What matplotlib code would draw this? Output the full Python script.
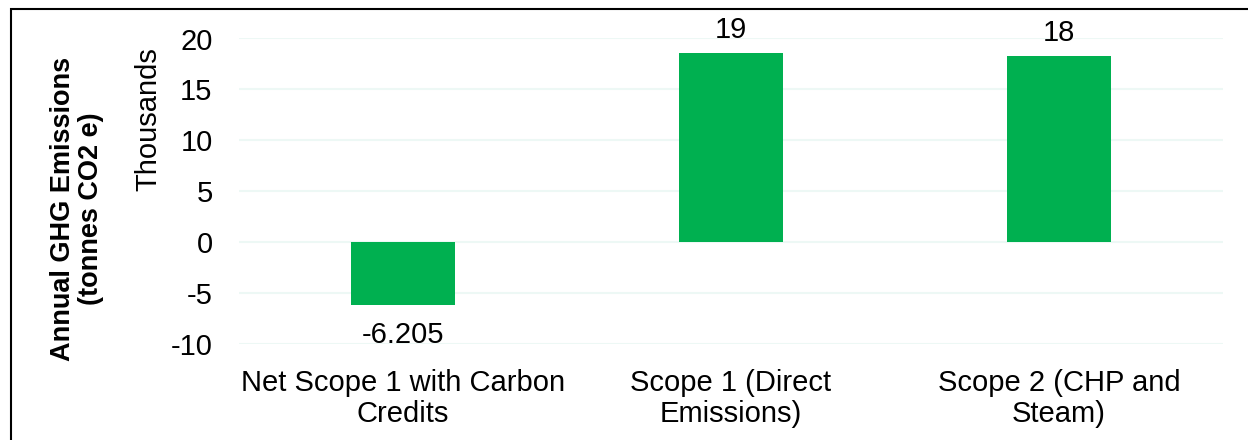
import matplotlib.pyplot as plt
from matplotlib.patches import Rectangle

# annual emissions, thousands of tonnes CO2e
categories = ["Net Scope 1 with Carbon\nCredits", "Scope 1 (Direct\nEmissions)", "Scope 2 (CHP and\nSteam)"]
values = [-6.205, 18.6, 18.3]
label_fmts = ["{:.3f}", "{:.0f}", "{:.0f}"]
yticks = [-10, -5, 0, 5, 10, 15, 20]

BAR_COLOR = "#00B050"
GRID_COLOR = "#EDF8F5"
FS = 21

plt.rcParams["font.family"] = ["Liberation Sans", "DejaVu Sans"]

W, H = 1248, 440
fig = plt.figure(figsize=(W / 100, H / 100), dpi=100)
ax = fig.add_axes([239 / W, 1 - 344 / H, (1223 - 239) / W, (344 - 38.5) / H])

x = range(len(categories))
bars = ax.bar(x, values, width=0.315, color=BAR_COLOR, zorder=3)

for rect, v, fmt in zip(bars, values, label_fmts):
    cx = rect.get_x() + rect.get_width() / 2
    if v >= 0:
        ax.annotate(fmt.format(v), (cx, v), xytext=(0, 6), textcoords="offset points",
                    ha="center", va="bottom", fontsize=FS)
    else:
        ax.annotate(fmt.format(v), (cx, v), xytext=(0, -11), textcoords="offset points",
                    ha="center", va="top", fontsize=FS)

ax.set_xlim(-0.5, len(categories) - 0.5)
ax.set_ylim(-10, 20)
ax.set_yticks(yticks)
ax.set_yticklabels([str(t) for t in yticks])
ax.set_xticks(list(x))
ax.set_xticklabels(categories, linespacing=1.12)
ax.tick_params(axis="y", length=0, pad=19, labelsize=FS)
ax.tick_params(axis="x", length=0, pad=18, labelsize=FS)
ax.yaxis.grid(True, color=GRID_COLOR, linewidth=1.5, zorder=0)
for s in ax.spines.values():
    s.set_visible(False)

# axis titles
fig.text(77 / W, 1 - 209 / H, "Annual GHG Emissions\n(tonnes CO2 e)", rotation=90,
         ha="center", va="center", fontsize=19.5, fontweight="bold", linespacing=1.12)
fig.text(148 / W, 1 - 119 / H, "Thousands", rotation=90, ha="center", va="center", fontsize=FS)

# outer frame (runs off the right and bottom edges)
fig.patches.append(Rectangle((11 / W, -0.1), 1.2, 1.1 - 9 / H, transform=fig.transFigure,
                             fill=False, edgecolor="black", linewidth=1.5))

fig.savefig("out.png", dpi=100)
